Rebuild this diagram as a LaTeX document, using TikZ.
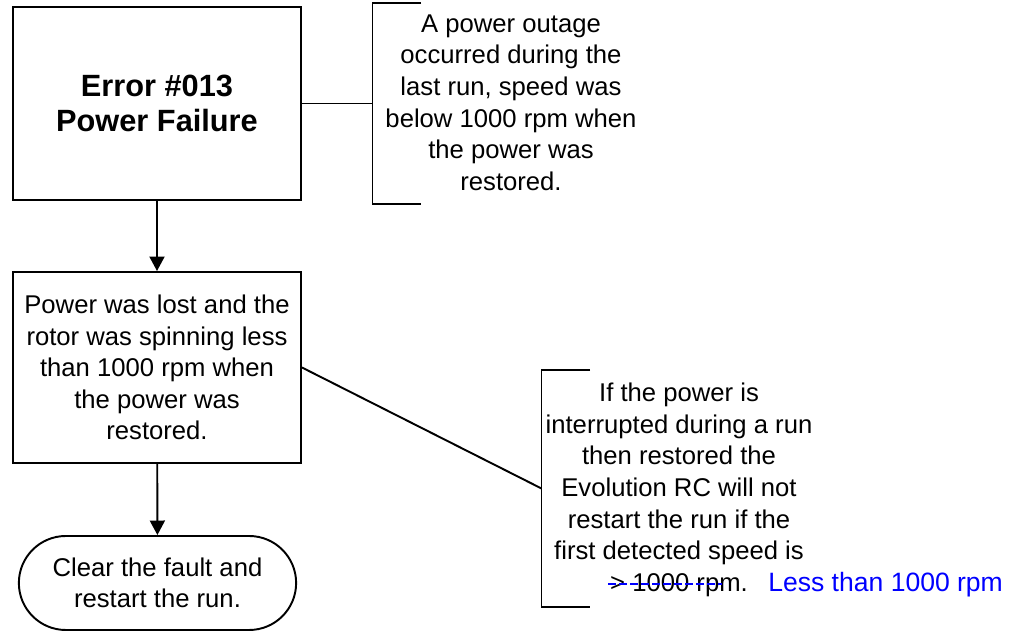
\documentclass[tikz,border=0pt]{standalone}
\usepackage{fontspec}
\setmainfont{Liberation Sans}
\usetikzlibrary{arrows.meta, positioning, shapes.misc}

\begin{document}
\begin{tikzpicture}[
      box/.style={draw, rectangle, line width=1.1pt, minimum width=5.76cm,
                  align=center, font=\fontsize{14.6}{18}\selectfont},
      title/.style={box, font=\fontsize{17.5}{19.6}\selectfont\bfseries},
      term/.style={draw, rounded rectangle, line width=1.1pt, minimum width=5.78cm,
                   minimum height=1.88cm, align=center, font=\fontsize{14.6}{18}\selectfont},
      note/.style={align=center, inner sep=0pt, font=\fontsize{14.6}{18}\selectfont},
      brk/.style={rectangle, inner sep=0pt, outer sep=0pt, minimum width=0.97cm},
      flow/.style={-{Triangle[length=0.29cm, width=0.3cm]}, line width=1.1pt},
      link/.style={line width=1.1pt}
    ]
    \useasboundingbox (0,0) rectangle (20.22,-12.68);

    % Kästen
    \node[title, minimum height=3.86cm] (err) at (3.14,-2.07) {Error \#013\\Power Failure};
    \node[box, minimum height=3.82cm] (cause) at (3.14,-7.35)
      {Power was lost and the\\rotor was spinning less\\than 1000 rpm when\\the power was\\restored.};
    \node[term] (fix) at (3.15,-11.66) {Clear the fault and\\restart the run.};

    % Klammern
    \node[brk, anchor=west, minimum height=4.02cm] (brk1) at (7.45,-2.07) {};
    \node[brk, anchor=west, minimum height=4.74cm] (brk2) at (10.83,-9.77) {};
    \draw[link] (brk1.north east) -- (brk1.north west) -- (brk1.south west) -- (brk1.south east);
    \draw[link] (brk2.north east) -- (brk2.north west) -- (brk2.south west) -- (brk2.south east);

    % Texte
    \node[note] (note1) at (10.22,-2.05)
      {A power outage\\occurred during the\\last run, speed was\\below 1000 rpm when\\the power was\\restored.};
    \node[note] (note2) at (13.58,-9.80)
      {If the power is\\interrupted during a run\\then restored the\\Evolution RC will not\\restart the run if the\\first detected speed is\\> 1000 rpm.};
    \node[note, text=blue, anchor=base west, font=\fontsize{15.1}{18}\selectfont] (edit) at (15.36,-11.84) {Less than 1000 rpm};
    \draw[blue, line width=1pt, dash pattern=on 0.15cm off 0.07cm] (12.16,-11.68) -- (14.44,-11.68);

    % Verbindungen
    \draw[flow] (err) -- (cause);
    \draw[flow] (cause) -- (fix);
    \draw[link] (err.east) -- (brk1.west);
    \draw[link] (cause.east) -- (brk2.west);
\end{tikzpicture}
\end{document}
